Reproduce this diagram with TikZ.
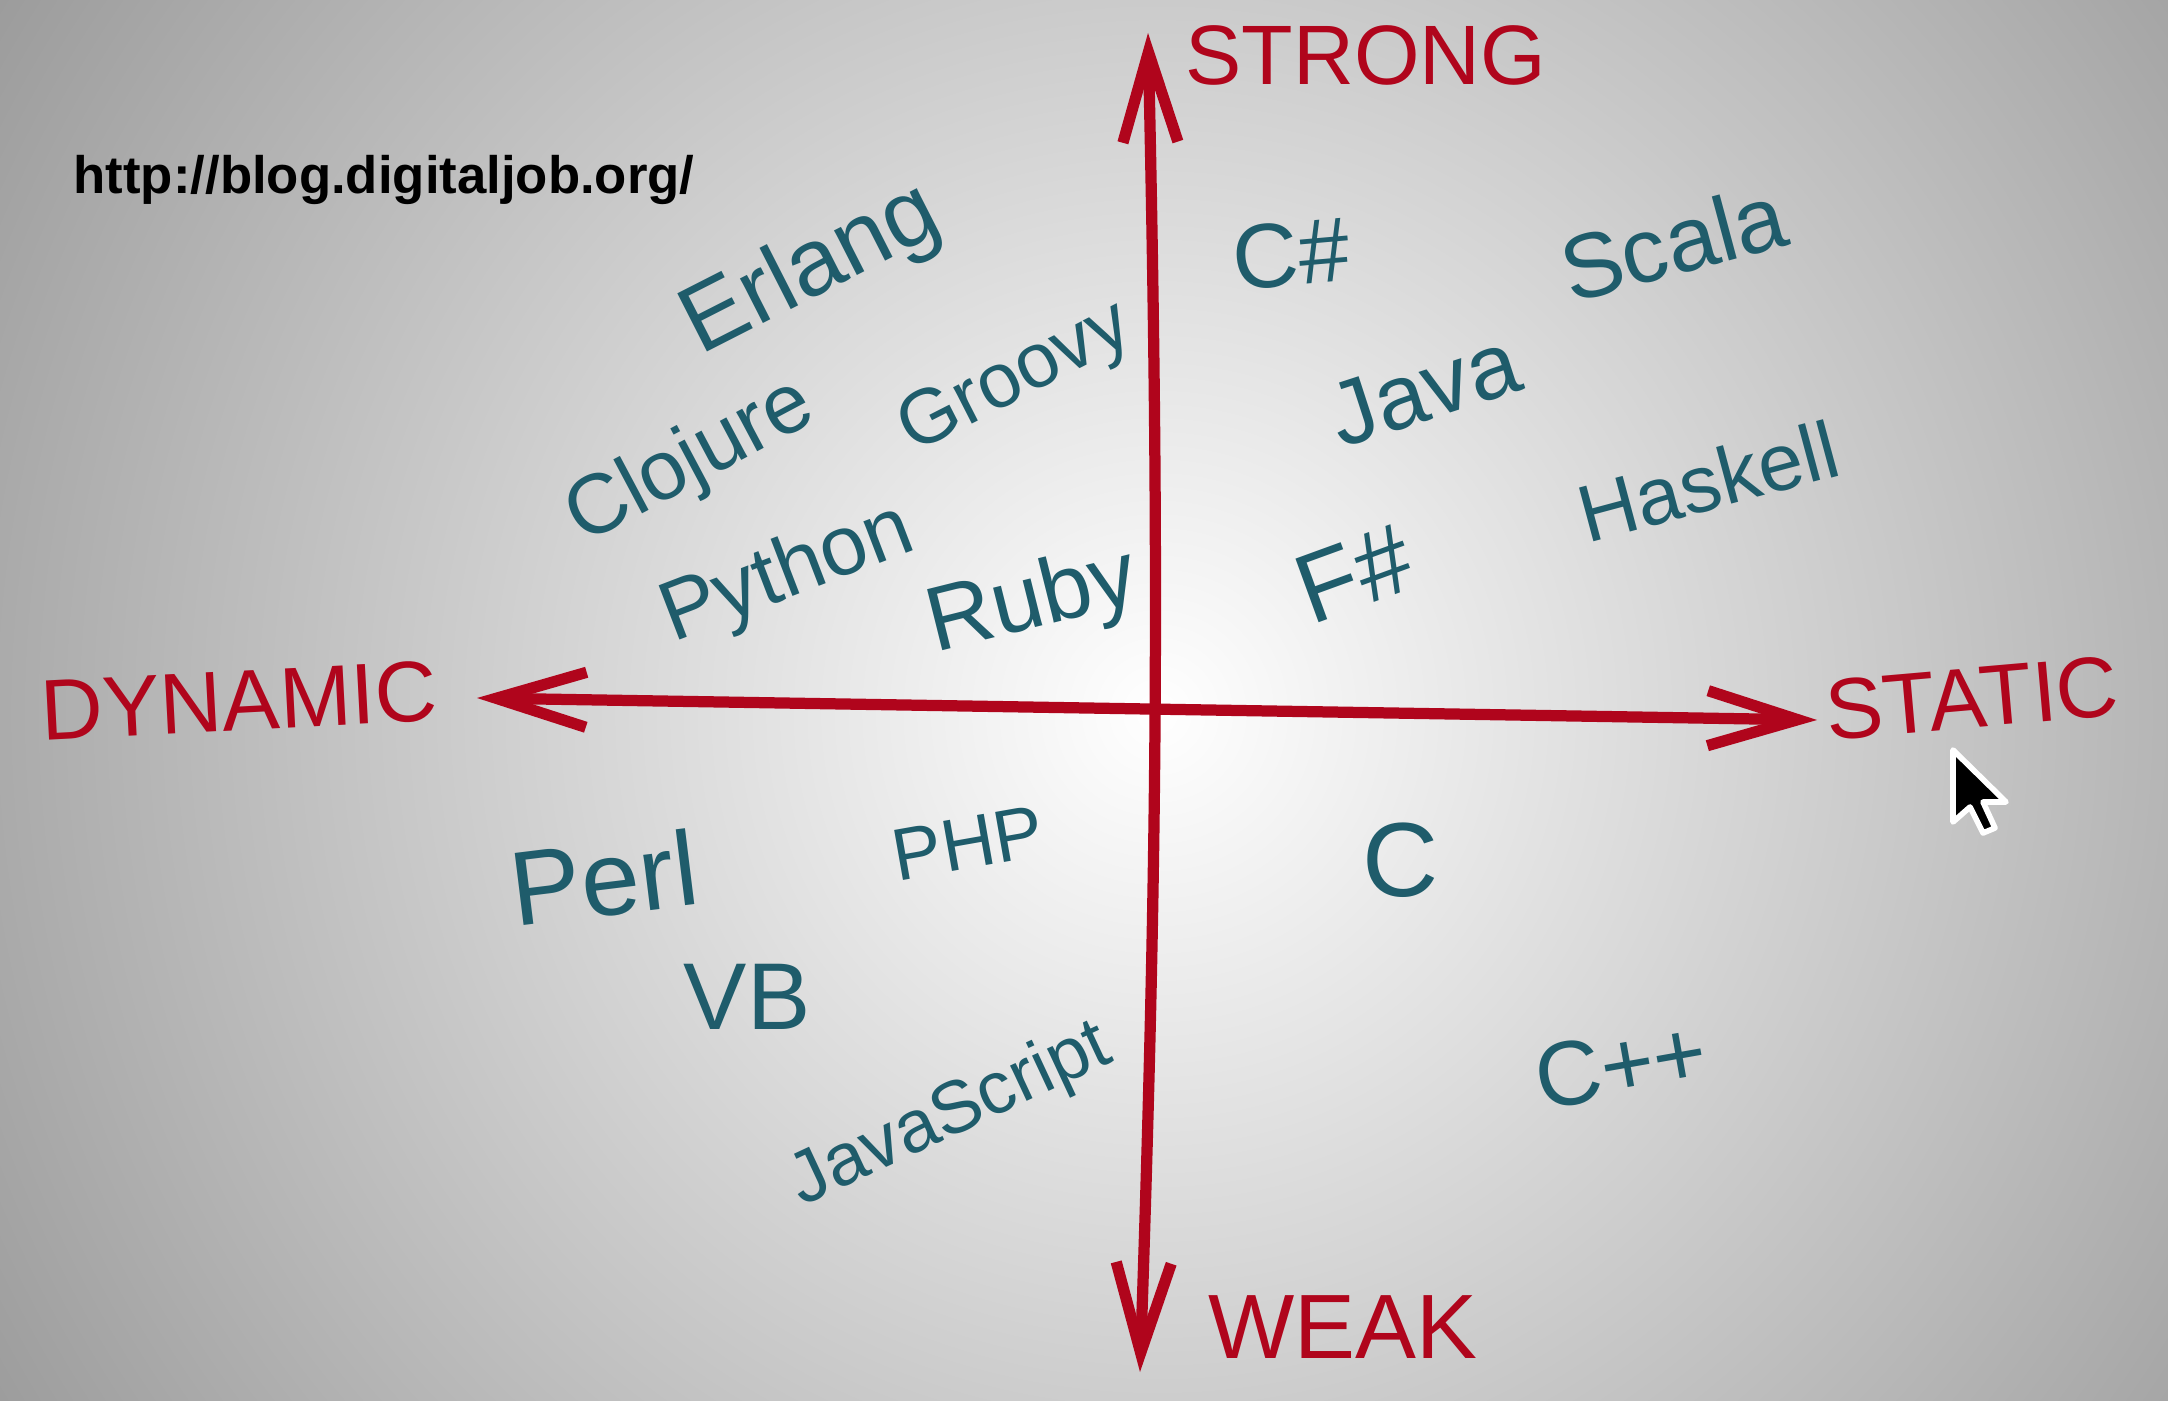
\documentclass[tikz,border=0pt]{standalone}
\usepackage{fontspec}
\setmainfont{Liberation Sans}
\usetikzlibrary{arrows.meta}
\definecolor{chalkred}{HTML}{B0051C}
\definecolor{inkteal}{HTML}{1F5C6B}
\tikzset{
  axis/.style={chalkred, line width=3.2pt, line cap=round,
    {Straight Barb[length=9mm,width=5.5mm]}-{Straight Barb[length=9mm,width=5.5mm]}},
  pole/.style={chalkred, inner sep=0pt},
  lang/.style={inkteal, inner sep=0pt},
}
\begin{document}
\begin{tikzpicture}
\useasboundingbox (0,0) rectangle (21.68,14);
% board
\begin{scope}
  \clip (0,0) rectangle (21.68,14);
  \fill[black!40] (0,0) rectangle (21.68,14);
  \shade[inner color=white, outer color=black!40] (11.57,6.87) circle (14);
\end{scope}
% axes
\coordinate (strongend) at (11.48,13.67);
\coordinate (weakend) at (11.40,0.28);
\coordinate (dynend) at (4.77,7.02);
\coordinate (statend) at (18.17,6.80);
\draw[axis] (weakend) to[bend right=1.6] (strongend);
\draw[axis] (dynend) -- (statend);
% poles
\foreach \x/\y/\a/\s/\name in {13.66/13.45/0/24/STRONG, 13.43/0.73/0/26/WEAK,
    2.39/6.99/3/24.5/DYNAMIC, 19.72/7.02/5/24.5/STATIC}
  \node[pole, rotate=\a, font=\fontsize{\s}{\s}\selectfont] (\name) at (\x,\y) {\name};
% languages
\foreach \x/\y/\a/\s/\id/\txt in {
    8.12/11.29/27/27/erlang/Erlang, 6.91/9.37/28/24/clojure/Clojure,
    10.16/10.20/27/22/groovy/Groovy, 7.88/8.25/21/24/python/Python,
    10.33/7.96/14/26/ruby/Ruby, 12.91/11.46/5/26/csharp/C\#,
    16.73/11.58/15/26/scala/Scala, 14.24/10.11/18/26/java/Java,
    17.08/9.19/15/23/haskell/Haskell, 13.54/8.26/20/28/fsharp/F\#,
    6.04/5.22/7/30/perl/Perl, 9.68/5.57/10/21/php/PHP,
    14.01/5.40/0/30/c/C, 7.47/4.03/0/27/vb/VB,
    9.51/2.84/25/21/javascript/JavaScript, 16.21/3.35/10/26/cpp/C++}
  \node[lang, rotate=\a, font=\fontsize{\s}{\s}\selectfont] (\id) at (\x,\y) {\txt};
% source
\node[inner sep=0pt, font=\bfseries\fontsize{15}{18}\selectfont] (url) at (3.84,12.20)
  {http://blog.digitaljob.org/};
% pointer
\coordinate (cursortip) at (19.53,6.50);
\filldraw[fill=black, draw=white, line width=1.6pt, line join=round] (cursortip)
  -- ++(0,-0.72) -- ++(0.17,0.15) -- ++(0.13,-0.26) -- ++(0.12,0.05)
  -- ++(-0.12,0.26) -- ++(0.23,0) -- cycle;
\end{tikzpicture}
\end{document}
